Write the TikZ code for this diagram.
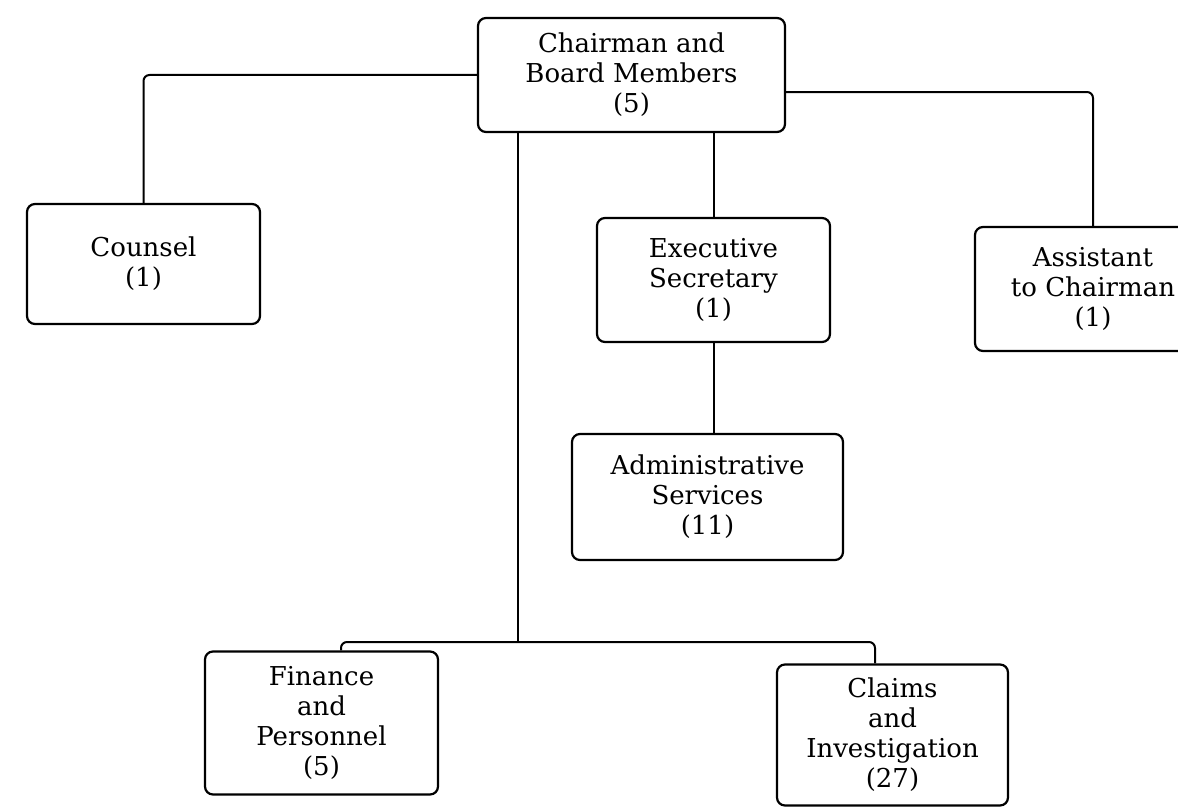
\documentclass[tikz,border=0pt]{standalone}
\usepackage{fontspec}
\setmainfont{DejaVu Serif}
\usepackage{tikz}
\tikzset{orgbox/.style={draw,line width=2.2pt,rounded corners=8pt,align=center,inner sep=0pt,font=\fontsize{26}{30}\selectfont}}
\begin{document}
\begin{tikzpicture}[x=1pt,y=-1pt]
        \useasboundingbox (0,0) rectangle (1178,808);
        %方框;
        \node [orgbox,minimum width=307pt,minimum height=114pt] (chair) at (631.5,75) {Chairman and\\Board Members\\(5)};
        \node [orgbox,minimum width=233pt,minimum height=120pt] (counsel) at (143.5,264) {Counsel\\(1)};
        \node [orgbox,minimum width=233pt,minimum height=124pt] (exec) at (713.5,280) {Executive\\Secretary\\(1)};
        \node [orgbox,minimum width=236pt,minimum height=124pt] (assist) at (1093,289) {Assistant\\to Chairman\\(1)};
        \node [orgbox,minimum width=271pt,minimum height=126pt] (admin) at (707.5,497) {Administrative\\Services\\(11)};
        \node [orgbox,minimum width=233pt,minimum height=143pt] (finance) at (321.5,723) {Finance\\and\\Personnel\\(5)};
        \node [orgbox,minimum width=231pt,minimum height=141pt] (claims) at (892.5,735) {Claims\\and\\Investigation\\(27)};
        %连线
        \coordinate (bus) at (518,642);
        \coordinate (busl) at (341,642);
        \coordinate (busr) at (875,642);
        \draw [line width=2pt][rounded corners=6pt] (chair.west) -| (counsel.north);
        \draw [line width=2pt][rounded corners=6pt] ([yshift=-17pt]chair.east) -| (assist.north);
        \draw [line width=2pt] (exec.north |- chair.south) -- (exec.north);
        \draw [line width=2pt] (exec.south) -- (exec.south |- admin.north);
        \draw [line width=2pt] (bus |- chair.south) -- (bus);
        \draw [line width=2pt][rounded corners=6pt] (busl |- finance.north) -- (busl) -- (busr) -- (busr |- claims.north);
    \end{tikzpicture}
\end{document}
